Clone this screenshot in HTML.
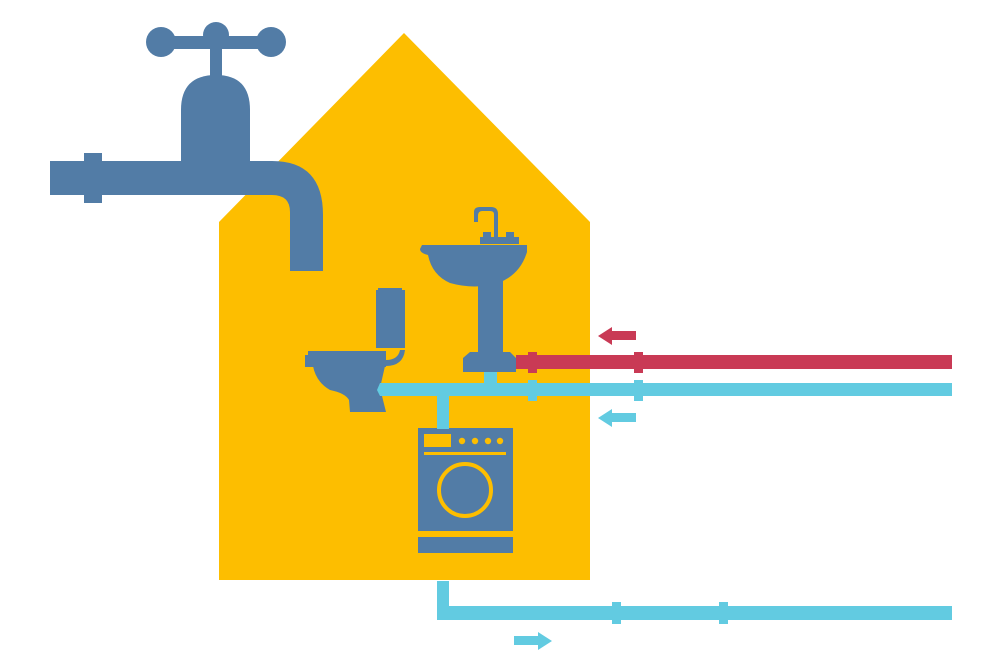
<!DOCTYPE html>
<html><head><style>html,body{margin:0;padding:0;background:#fff}svg{display:block}</style></head><body>
<svg width="1000" height="667" viewBox="0 0 1000 667" xmlns="http://www.w3.org/2000/svg">
<polygon points="219,222 404,33 590,222 590,580 219,580" fill="#FDBE00"/>
<!-- faucet -->
<g fill="#527CA6">
<path d="M50,161 H272 Q323,161 323,215 V271 H290 V212 Q290,195 272,195 H50 Z"/>
<rect x="84" y="153" width="18" height="50"/>
<path d="M181,161 V110 Q181,75 216,75 Q250,75 250,110 V161 Z"/>
<rect x="210" y="45" width="12" height="35"/>
<rect x="160" y="36" width="112" height="13"/>
<circle cx="161" cy="42" r="15"/><circle cx="216" cy="35" r="13"/><circle cx="271" cy="42" r="15"/>
<!-- sink -->
<path d="M474,222 V212 Q474,207 480,207 H491 Q498,207 498,214 V240 H494 V214 Q494,211 490,211 H482 Q478,211 478,216 V222 Z"/>
<rect x="480" y="237" width="39" height="7"/><rect x="483" y="232" width="8" height="6"/><rect x="506" y="232" width="8" height="6"/>
<path d="M422,245 H527 V252 Q520,275 498,283 Q475,290 450,283 Q432,275 428,255 Q420,253 420,249 Z"/>
<rect x="478" y="280" width="25" height="73"/>
<path d="M463,372 V358 L470,352 H510 L516,358 V372 Z"/>
<!-- toilet -->
<rect x="376" y="290" width="29" height="58"/>
<rect x="378" y="288" width="24" height="4"/>
<rect x="305" y="355" width="81" height="12"/>
<rect x="308" y="351" width="78" height="5"/>
<path d="M313,366 H385 L380,388 L386,412 H350 L349,400 Q345,393 330,390 Q316,382 313,366 Z"/>
<path d="M386,360 Q398,360 400,350 H405 Q403,366 386,366 Z"/>
<!-- washer -->
<rect x="418" y="428" width="95" height="103"/>
<rect x="418" y="537" width="95" height="16"/>
</g>
<g fill="#FDBE00">
<rect x="424" y="434" width="27" height="13"/>
<circle cx="462" cy="441" r="3.2"/><circle cx="475" cy="441" r="3.2"/><circle cx="488" cy="441" r="3.2"/><circle cx="500" cy="441" r="3.2"/>
<rect x="424" y="452" width="82" height="3"/>
</g>
<circle cx="465" cy="490" r="26" fill="none" stroke="#FDBE00" stroke-width="4"/>
<!-- pipes -->
<g fill="#C93A55">
<rect x="516" y="355" width="436" height="14"/>
<rect x="528" y="352" width="9" height="21"/><rect x="634" y="352" width="9" height="21"/>
<polygon points="598,336 612,327 612,331 636,331 636,340 612,340 612,345"/>
</g>
<g fill="#62CBE1">
<polygon points="380,383 952,383 952,396 380,396 377,390"/>
<rect x="528" y="380" width="9" height="21"/><rect x="634" y="380" width="9" height="21"/>
<rect x="484" y="372" width="13" height="12"/>
<rect x="437" y="395" width="12" height="34"/>
<polygon points="598,418 612,409 612,413 636,413 636,422 612,422 612,427"/>
<path d="M437,581 H449 V606 H952 V620 H437 Z"/>
<rect x="612" y="602" width="9" height="22"/><rect x="719" y="602" width="9" height="22"/>
<polygon points="552,641 538,632 538,636 514,636 514,645 538,645 538,650"/>
</g>
</svg>
</body></html>
